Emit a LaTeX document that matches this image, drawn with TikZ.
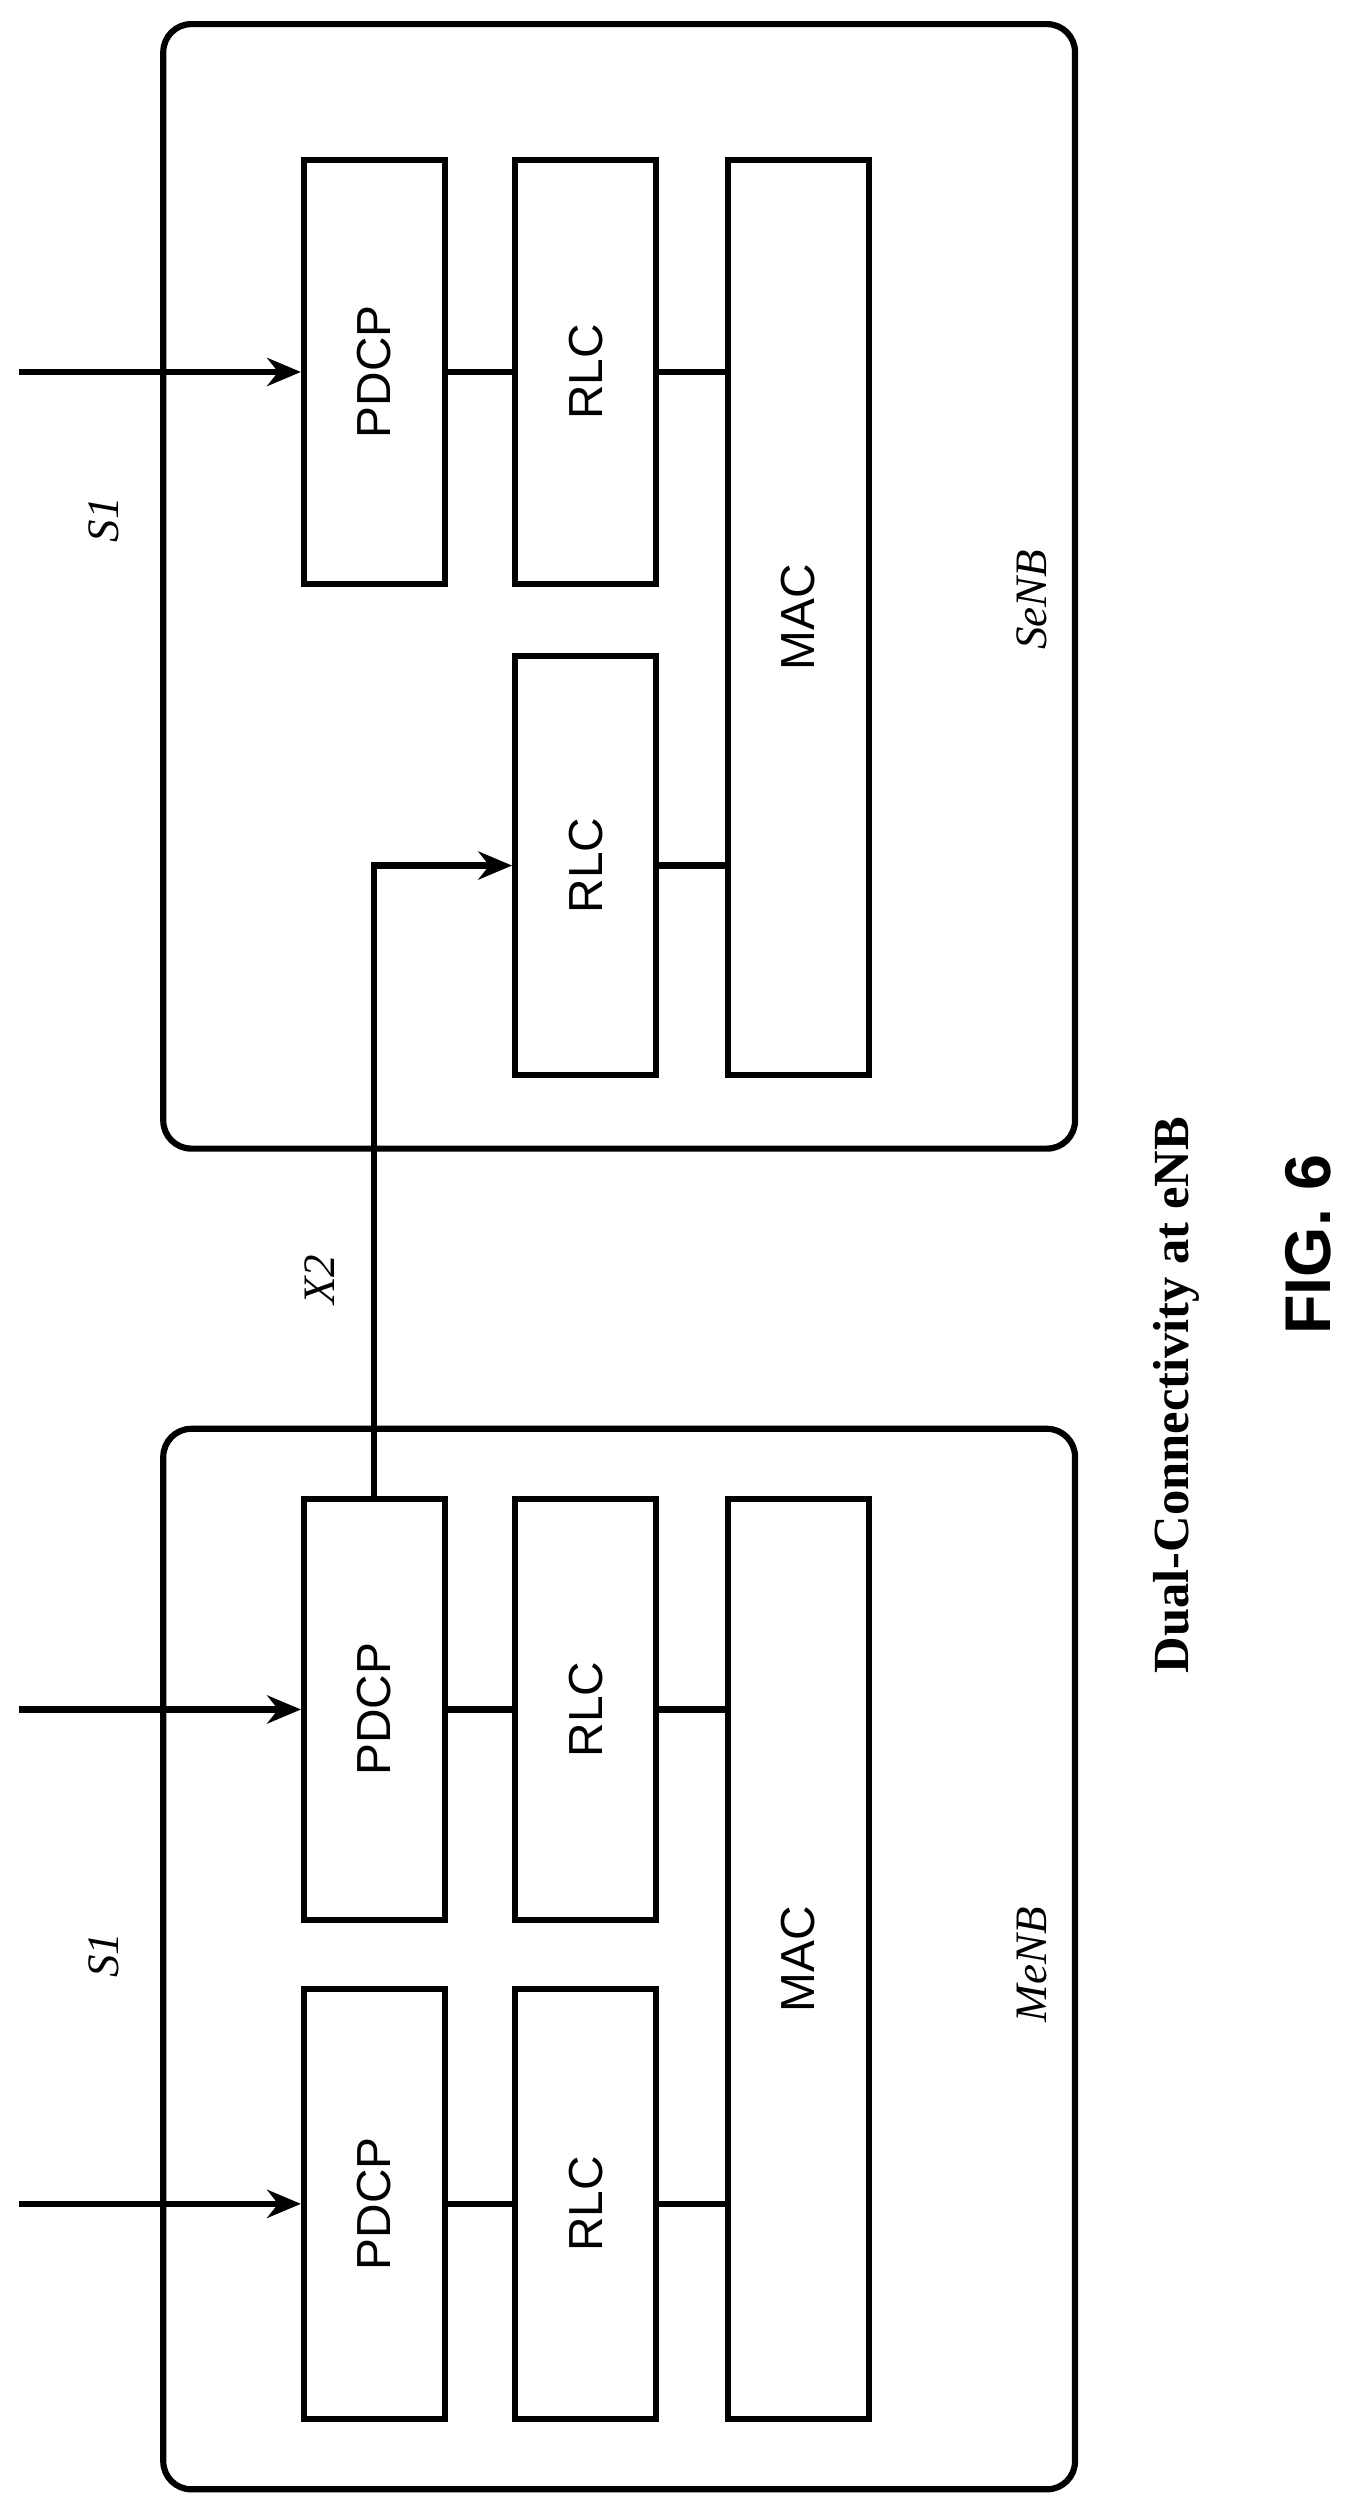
\documentclass[tikz,border=0pt]{standalone}
\usepackage{fontspec}
\setmainfont{Liberation Serif}
\setsansfont{Liberation Sans}
\usepackage{tikz}
\usetikzlibrary{arrows.meta}

\begin{document}
\begin{tikzpicture}[
		x=0.02cm, y=-0.02cm,
		line width=2.2pt,
		layer/.style={rectangle, draw, minimum width=1.76cm, font=\sffamily\fontsize{17}{20}\selectfont},
		enb/.style={rectangle, draw, rounded corners=0.35cm, minimum width=11.4cm},
		iface/.style={font=\itshape\fontsize{16}{19}\selectfont},
		arr/.style={-{Stealth[length=12pt,width=10pt]}}
	]
  \useasboundingbox (0,0) rectangle (850,1572);
  % SeNB
  \node (senb) [enb, minimum height=14.06cm] at (387,366.5) {};
  \node (s_pdcp) [layer, minimum height=5.3cm] at (234,232.5) {\rotatebox{90}{PDCP}};
  \node (s_rlc) [layer, minimum height=5.3cm] at (366,232.5) {\rotatebox{90}{RLC}};
  \node (s_mac) [layer, minimum height=11.44cm] at (499,386) {\rotatebox{90}{MAC}};
  \node (s_rlc2) [layer, minimum height=5.24cm] at (366,541) {\rotatebox{90}{RLC}};
  \node (senb_l) [iface] at (645,375) {\rotatebox{90}{SeNB}};
  % MeNB
  \node (menb) [enb, minimum height=13.26cm] at (387,1224.5) {};
  \node (m_pdcp1) [layer, minimum height=5.26cm] at (234,1068.5) {\rotatebox{90}{PDCP}};
  \node (m_rlc1) [layer, minimum height=5.26cm] at (366,1068.5) {\rotatebox{90}{RLC}};
  \node (m_mac) [layer, minimum height=11.5cm] at (499,1224.5) {\rotatebox{90}{MAC}};
  \node (m_pdcp2) [layer, minimum height=5.38cm] at (234,1377.5) {\rotatebox{90}{PDCP}};
  \node (m_rlc2) [layer, minimum height=5.38cm] at (366,1377.5) {\rotatebox{90}{RLC}};
  \node (menb_l) [iface] at (645,1228) {\rotatebox{90}{MeNB}};
  % inputs
  \coordinate (s_in) at (12,232.5);
  \coordinate (m_in1) at (12,1068.5);
  \coordinate (m_in2) at (12,1377.5);
  \node (s1_s) [iface] at (65,325) {\rotatebox{90}{S1}};
  \node (s1_m) [iface] at (65,1222) {\rotatebox{90}{S1}};
  \node (x2) [iface] at (200,800) {\rotatebox{90}{X2}};
  \draw [arr] (s_in) -- (s_pdcp);
  \draw [arr] (m_in1) -- (m_pdcp1);
  \draw [arr] (m_in2) -- (m_pdcp2);
  \draw (s_pdcp) -- (s_rlc);
  \draw (s_rlc.east) -- (s_rlc.east -| s_mac.west);
  \draw (s_rlc2.east) -- (s_rlc2.east -| s_mac.west);
  \draw (m_pdcp1) -- (m_rlc1);
  \draw (m_rlc1.east) -- (m_rlc1.east -| m_mac.west);
  \draw (m_pdcp2) -- (m_rlc2);
  \draw (m_rlc2.east) -- (m_rlc2.east -| m_mac.west);
  \draw [arr] (m_pdcp1.north) -- (m_pdcp1.north |- s_rlc2.west) -- (s_rlc2.west);
  % caption
  \node (title) [font=\bfseries\fontsize{18}{21}\selectfont] at (735,872) {\rotatebox{90}{Dual-Connectivity at eNB}};
  \node (fig) [font=\sffamily\bfseries\fontsize{23}{27}\selectfont] at (818,778) {\rotatebox{90}{FIG. 6}};
\end{tikzpicture}
\end{document}
